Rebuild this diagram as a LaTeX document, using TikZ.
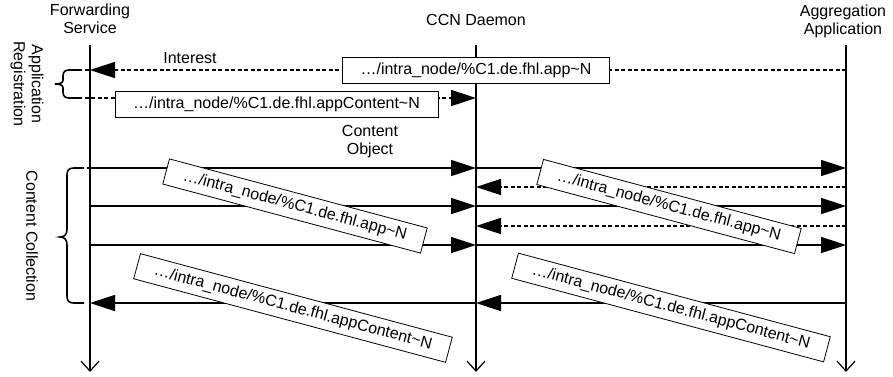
\documentclass[tikz,border=0pt]{standalone}
\usepackage{fontspec}
\setmainfont{Liberation Sans}
\usetikzlibrary{arrows.meta}
\begin{document}
\begin{tikzpicture}[x=1pt,y=-1pt,
  every node/.style={font=\fontsize{16}{18}\selectfont},
  life/.style={line width=1.6pt, -{Straight Barb[length=10pt,width=18pt,line width=1.2pt]}},
  msg/.style={line width=1.6pt, -{Triangle[length=25pt,width=16pt]}},
  dmsg/.style={msg, dash pattern=on 4pt off 2.5pt},
  dline/.style={line width=1.6pt, dash pattern=on 4pt off 2.5pt},
  lbl/.style={draw, line width=0.8pt, fill=white, inner xsep=18pt, minimum height=26pt, inner ysep=0pt},
  bracepath/.style={line width=1.6pt},
  title/.style={align=center, inner sep=0pt},
  side/.style={align=center, rotate=-90, inner sep=0pt}]
\useasboundingbox (0,0) rectangle (893,376);

% lifelines
\coordinate (fs) at (90,45);  \coordinate (fe) at (90,372);
\coordinate (cs) at (476,45); \coordinate (ce) at (476,372);
\coordinate (as) at (846,45); \coordinate (ae) at (846,372);
\node[title] (tf) at (90,19) {Forwarding\\Service};
\node[title] (tc) at (476,20) {CCN Daemon};
\node[title] (ta) at (843,21) {Aggregation\\Application};
\draw[life] (fs) -- (fe);
\draw[life] (cs) -- (ce);
\draw[life] (as) -- (ae);

% side labels
\node[side] (lreg) at (27,84) {Application\\Registration};
\node[side] (lcol) at (32,236) {Content Collection};

% brace 1
\coordinate (b1a) at (78,70); \coordinate (b1b) at (78,98);
\draw[bracepath] (b1a) -- (69,70) .. controls (65,70) and (63,72) .. (63,76) -- (63,80)
  .. controls (63,83) and (60,84) .. (55,84) .. controls (60,84) and (63,85) .. (63,88)
  -- (63,92) .. controls (63,96) and (65,98) .. (69,98) -- (b1b);
\draw[dline] (b1a) -- (fs |- b1a);

% brace 2
\coordinate (b2a) at (84,168); \coordinate (b2b) at (84,303);
\draw[bracepath] (b2a) -- (74,168) .. controls (69,168) and (67,170) .. (67,175) -- (67,229)
  .. controls (67,234) and (65,237) .. (60,237) .. controls (65,237) and (67,240) .. (67,245)
  -- (67,296) .. controls (67,301) and (69,303) .. (74,303) -- (b2b);

% registration messages
\draw[dmsg] (as |- 0,70) -- (fs |- 0,70);
\node[inner sep=0pt] (lint) at (190,58) {Interest};
\draw[dmsg] (b1b) -- (cs |- b1b);
\node[lbl] (n1) at (476,70) {…/intra\_node/\%C1.de.fhl.app\textasciitilde N};
\node[lbl] (n2) at (276.5,104.5) {…/intra\_node/\%C1.de.fhl.appContent\textasciitilde N};

% content collection
\node[title] (lco) at (370,142) {Content\\Object};
\coordinate (r1) at (87,168);
\draw[msg] (r1) -- (cs |- r1);
\draw[msg] (cs |- r1) -- (as |- r1);
\draw[dmsg] (as |- 0,187) -- (cs |- 0,187);
\draw[msg] (fs |- 0,206) -- (cs |- 0,206);
\draw[msg] (cs |- 0,206) -- (as |- 0,206);
\draw[dmsg] (as |- 0,226) -- (cs |- 0,226);
\draw[msg] (fs |- 0,245) -- (cs |- 0,245);
\draw[msg] (cs |- 0,245) -- (as |- 0,245);
\draw[msg] (as |- 0,303) -- (cs |- 0,303);
\draw[msg] (cs |- 0,303) -- (fs |- 0,303);

\node[lbl, rotate=-15] (na) at (295,206) {…/intra\_node/\%C1.de.fhl.app\textasciitilde N};
\node[lbl, rotate=-15] (nb) at (669,206.5) {…/intra\_node/\%C1.de.fhl.app\textasciitilde N};
\node[lbl, rotate=-15] (nc) at (293,308) {…/intra\_node/\%C1.de.fhl.appContent\textasciitilde N};
\node[lbl, rotate=-15] (nd) at (671,307.5) {…/intra\_node/\%C1.de.fhl.appContent\textasciitilde N};
\end{tikzpicture}
\end{document}
